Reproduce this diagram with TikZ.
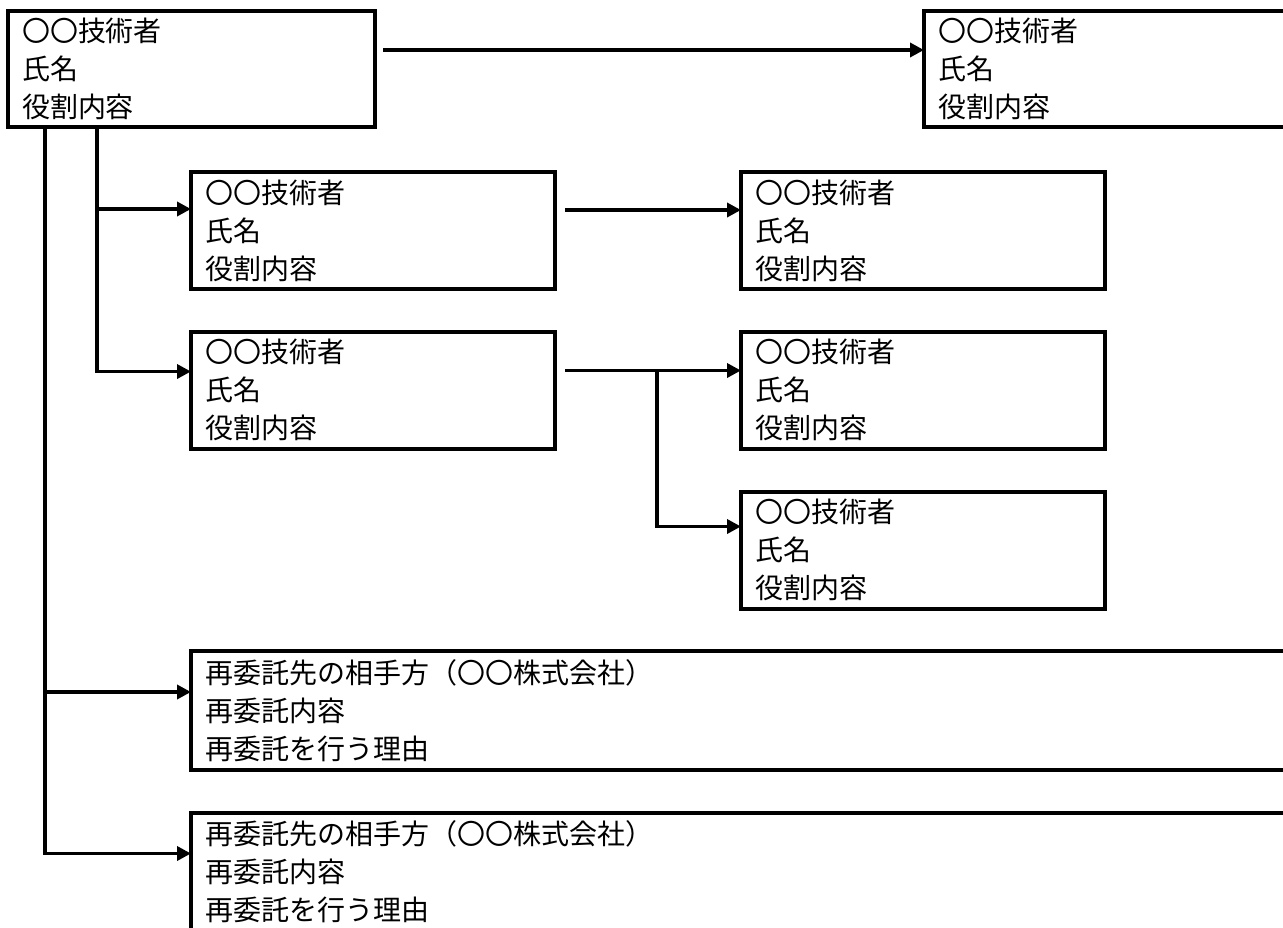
\documentclass[tikz,border=0pt]{standalone}
\usepackage{fontspec}
\newfontfamily\jp{Noto Sans CJK JP}
\usetikzlibrary{arrows.meta}
\tikzset{
  box/.style={draw, line width=4pt, outer sep=0pt, inner xsep=14pt, inner ysep=0pt,
    anchor=north west, align=left, font=\jp\fontsize{28}{38}\selectfont},
  conn/.style={line width=3.5pt},
  arr/.style={conn, -{Triangle[length=14pt,width=14pt]}}
}
\begin{document}
\begin{tikzpicture}[x=1pt,y=-1pt]
\fill[white] (0,0) rectangle (1283,927);
\useasboundingbox (0,0) rectangle (1283,927);
\begin{scope}
\clip (0,0) rectangle (1283,927);
% boxes
\node[box, text width=339pt, minimum height=116pt] (A) at (8,11) {〇〇技術者\\氏名\\役割内容};
\node[box, text width=358pt, minimum height=116pt] (B) at (924,11) {〇〇技術者\\氏名\\役割内容};
\node[box, text width=336pt, minimum height=117pt] (C) at (191,172) {〇〇技術者\\氏名\\役割内容};
\node[box, text width=336pt, minimum height=117pt] (D) at (741,172) {〇〇技術者\\氏名\\役割内容};
\node[box, text width=336pt, minimum height=117pt] (E) at (191,331.5) {〇〇技術者\\氏名\\役割内容};
\node[box, text width=336pt, minimum height=117pt] (F) at (741,331.5) {〇〇技術者\\氏名\\役割内容};
\node[box, text width=336pt, minimum height=117pt] (G) at (741,491.5) {〇〇技術者\\氏名\\役割内容};
\node[box, text width=1091pt, minimum height=119pt] (H) at (191,651) {再委託先の相手方（〇〇株式会社）\\再委託内容\\再委託を行う理由};
\node[box, text width=1091pt, minimum height=119pt] (I) at (191,812.5) {再委託先の相手方（〇〇株式会社）\\再委託内容\\再委託を行う理由};
% entry points
\coordinate (Bin) at ([yshift=-39pt]B.north west);
\coordinate (Cin) at ([yshift=-37pt]C.north west);
\coordinate (Din) at ([yshift=-38pt]D.north west);
\coordinate (Ein) at ([yshift=-40pt]E.north west);
\coordinate (Fin) at ([yshift=-39pt]F.north west);
\coordinate (Gin) at ([yshift=-35pt]G.north west);
\coordinate (Hin) at ([yshift=-41pt]H.north west);
\coordinate (Iin) at ([yshift=-41pt]I.north west);
% start points
\coordinate (Aout) at ([xshift=8pt]A.east |- Bin);
\coordinate (Cout) at ([xshift=10pt]C.east |- Din);
\coordinate (Eout) at ([xshift=10pt]E.east |- Fin);
\coordinate (t1) at ([xshift=37pt]A.south west);
\coordinate (t2) at ([xshift=89pt]A.south west);
\coordinate (br) at (657,0);
% connectors
\draw[arr] (Aout) -- (Bin);
\draw[arr] (Cout) -- (Din);
\draw[arr] (Eout) -- (Fin);
\draw[arr] (br |- Fin) |- (Gin);
\draw[arr] (t2) |- (Ein);
\draw[arr] (t2 |- Cin) -- (Cin);
\draw[arr] (t1) |- (Iin);
\draw[arr] (t1 |- Hin) -- (Hin);
\end{scope}
\end{tikzpicture}
\end{document}
